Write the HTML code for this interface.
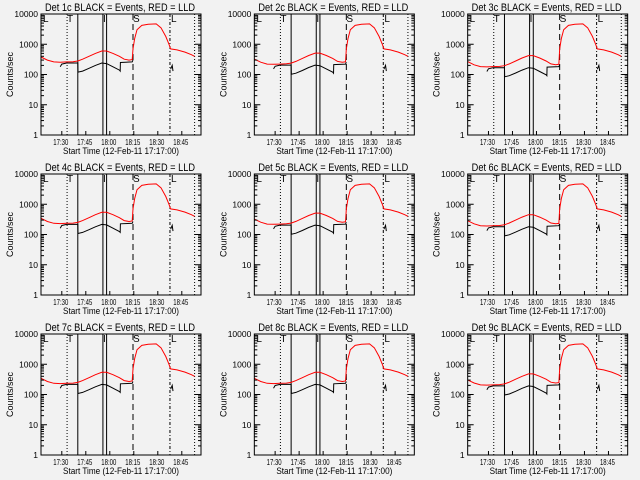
<!DOCTYPE html>
<html><head><meta charset="utf-8"><style>
html,body{margin:0;padding:0;background:#f2f2f2;}
svg{display:block;font-family:"Liberation Sans",sans-serif;}
</style></head><body>
<svg id="chart" width="640" height="480" viewBox="0 0 640 480"></svg>
<script>
const panelTitles = ["Det 1c BLACK = Events, RED = LLD","Det 2c BLACK = Events, RED = LLD","Det 3c BLACK = Events, RED = LLD","Det 4c BLACK = Events, RED = LLD","Det 5c BLACK = Events, RED = LLD","Det 6c BLACK = Events, RED = LLD","Det 7c BLACK = Events, RED = LLD","Det 8c BLACK = Events, RED = LLD","Det 9c BLACK = Events, RED = LLD"];
const xTickMinutes = [13,28,43,58,73,88];
const xTickLabels = ["17:30","17:45","18:00","18:15","18:30","18:45"];
const yTickValues = [1,10,100,1000,10000];
const yTickLabels = ["1","10","100","1000","10000"];
const redT = [0,4,8,12,16,20,23,26,30,34,38,41,45,49,52,55,57,57.5,58.5,60,63,67,72,75,78,80,81,85,90,94,96];
const redV = [380,300,260,255,260,265,280,320,400,500,600,600,500,400,320,300,310,700,1500,3000,4200,4600,4700,3500,1800,1000,700,650,550,450,400];
const blackT = [12,13,16,23,23.1,26,30,34,38,41,45,49,49.5,49.6,57,57.5];
const blackV = [180,220,240,240,120,130,160,200,240,230,180,140,130,250,260,300];
const panelScale = [1,0.85,0.7,0.9,0.85,0.75,0.9,0.9,0.8];
const markerT = [10,16.3,23,38.7,41,57.5,80.6,96];
const markerStyle = ["none","1,2","none","none","none","6,4","3,2,1,2","1,2"];

const svg=document.getElementById('chart');
const NS='http://www.w3.org/2000/svg';
function mk(tag,attrs,parent){const e=document.createElementNS(NS,tag);for(const k in attrs)e.setAttribute(k,attrs[k]);parent.appendChild(e);return e;}
const PW=640/3, PH=160, L=41, R=201, T=14, B=135;
function sx(t){return L+(t/100)*(R-L);}
function sy(v){return B-(Math.log10(v)/4)*(B-T);}

panelTitles.forEach((title,i)=>{
  const col=i%3,row=Math.floor(i/3);
  const g=mk('g',{transform:`translate(${(col*PW).toFixed(2)},${row*PH})`},svg);
  
  
  const sc=panelScale[i];
  markerT.forEach((t,k)=>{
    if(k===0)return;
    const ln=mk('line',{x1:sx(t),x2:sx(t),y1:T,y2:B,stroke:'#000','stroke-width':1},g);
    if(markerStyle[k]!=='none')ln.setAttribute('stroke-dasharray',markerStyle[k]);
    
    
  });
  const letters=[["L",43],["T",67],["I",103],["S",133],["L",171]];
  letters.forEach(([c,x])=>{const tx=mk('text',{x:x,y:T+8,'font-size':10,'text-anchor':'start'},g);tx.textContent=c;
    });
  const rp=redT.map((t,k)=>`${sx(t).toFixed(1)},${sy(redV[k]*(k>16?1:sc)).toFixed(1)}`).join(' ');
  const red=mk('polyline',{points:rp,fill:'none',stroke:'#ff0000','stroke-width':1},g);
  
  
  const bp=blackT.map((t,k)=>`${sx(t).toFixed(1)},${sy(blackV[k]*sc).toFixed(1)}`).join(' ');
  const blk=mk('polyline',{points:bp,fill:'none',stroke:'#000','stroke-width':1},g);
  
  
  mk('polyline',{points:`${sx(81)},${sy(150)} ${sx(82)},${sy(200)} ${sx(82.5)},${sy(130)}`,fill:'none',stroke:'#000','stroke-width':1},g);
  const box=mk('rect',{x:L,y:T,width:R-L,height:B-T,fill:'none',stroke:'#000','stroke-width':1},g);
  
  
  yTickValues.forEach((v,k)=>{
    const y=sy(v);
    mk('line',{x1:L,x2:L+6,y1:y,y2:y,stroke:'#000'},g);
    mk('line',{x1:R,x2:R-6,y1:y,y2:y,stroke:'#000'},g);
    const tx=mk('text',{x:L-3,y:y+3,'font-size':8.5,'text-anchor':'end'},g);tx.textContent=yTickLabels[k];
    
    if(k<yTickValues.length-1)for(let m=2;m<10;m++){const yy=sy(v*m);
      mk('line',{x1:L,x2:L+3,y1:yy,y2:yy,stroke:'#000'},g);mk('line',{x1:R,x2:R-3,y1:yy,y2:yy,stroke:'#000'},g);}
  });
  xTickMinutes.forEach((t,k)=>{
    const x=sx(t);
    mk('line',{x1:x,x2:x,y1:B,y2:B-4,stroke:'#000'},g);
    const tx=mk('text',{x:x-1,y:B+10,'font-size':8,'text-anchor':'middle',textLength:15,lengthAdjust:'spacingAndGlyphs'},g);tx.textContent=xTickLabels[k];
    
  });
  const xt=mk('text',{x:121,y:B+19,'font-size':9.5,'text-anchor':'middle',textLength:116,lengthAdjust:'spacingAndGlyphs'},g);
  xt.textContent='Start Time (12-Feb-11 17:17:00)';
  
  const yt=mk('text',{x:0,y:0,'font-size':9,'text-anchor':'middle',transform:`translate(13,${(T+B)/2}) rotate(-90)`},g);
  yt.textContent='Counts/sec';
  
  const tt=mk('text',{x:120,y:11,'font-size':11,'text-anchor':'middle',textLength:150,lengthAdjust:'spacingAndGlyphs'},g);
  tt.textContent=title;
  
});
</script>
</body></html>
